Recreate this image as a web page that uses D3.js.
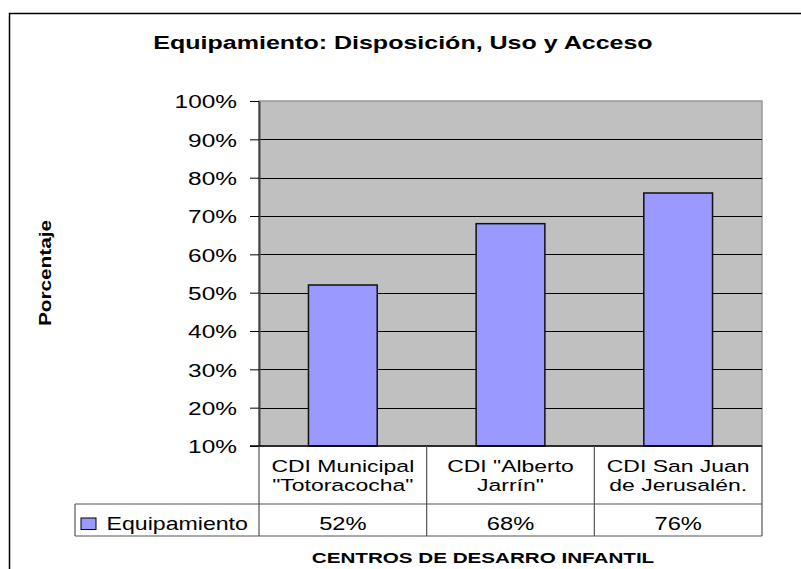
<!DOCTYPE html>
<html>
<head>
<meta charset="utf-8">
<script src="https://cdn.jsdelivr.net/npm/d3@7"></script>
<style>
  html, body { margin: 0; padding: 0; background: #fff; }
  svg { display: block; }
  text { font-family: "Liberation Sans", Arial, sans-serif; fill: #000; }
</style>
</head>
<body>
<svg id="chart" width="801" height="569"></svg>
<script>
// ---- data ----
const title = "Equipamiento: Disposición, Uso y Acceso";
const yTitle = "Porcentaje";
const xTitle = "CENTROS DE DESARRO INFANTIL";
const seriesName = "Equipamiento";
const categories = ["CDI Municipal \"Totoracocha\"", "CDI \"Alberto Jarrín\"", "CDI San Juan de Jerusalén."];
const categoryLines = [["CDI Municipal", "\"Totoracocha\""], ["CDI \"Alberto", "Jarrín\""], ["CDI San Juan", "de Jerusalén."]];
const values = [0.52, 0.68, 0.76];
const valueLabels = ["52%", "68%", "76%"];
const yTicks = [0.1, 0.2, 0.3, 0.4, 0.5, 0.6, 0.7, 0.8, 0.9, 1.0];

// ---- layout ----
const plot = { left: 259, right: 762, top: 101, bottom: 446 };
const table = { left: 75, row1: 504, row2: 536 };
const SX = 1.28;      // horizontal stretch of regular text
const SXB = 1.39;     // horizontal stretch of bold text
const barColor = "#9999FF";

const svg = d3.select("#chart");

function stext(parent, x, y, str, opts) {
  const o = Object.assign({ size: 18, weight: "normal", anchor: "middle", sx: SX, rotate: 0 }, opts || {});
  return parent.append("text")
    .attr("transform", `translate(${x},${y})` + (o.rotate ? ` rotate(${o.rotate})` : "") + ` scale(${o.sx},1)`)
    .attr("text-anchor", o.anchor)
    .attr("font-size", o.size)
    .attr("font-weight", o.weight)
    .text(str);
}

// outer chart frame
svg.append("rect")
  .attr("x", 9.5).attr("y", 13.5)
  .attr("width", 820).attr("height", 600)
  .attr("fill", "#fff").attr("stroke", "#000").attr("stroke-width", 1.5);

// scales
const y = d3.scaleLinear().domain([0.1, 1.0]).range([plot.bottom, plot.top]);
const x = d3.scaleBand().domain(categories).range([plot.left, plot.right]).paddingInner(0).paddingOuter(0);
const barW = x.bandwidth() * 0.41;

// plot background
svg.append("rect")
  .attr("x", plot.left).attr("y", plot.top)
  .attr("width", plot.right - plot.left).attr("height", plot.bottom - plot.top)
  .attr("fill", "#C0C0C0").attr("stroke", "#999").attr("stroke-width", 1.5);

// gridlines
svg.append("g").selectAll("line")
  .data(yTicks.filter(d => d > 0.1 && d < 1.0))
  .join("line")
  .attr("x1", plot.left).attr("x2", plot.right)
  .attr("y1", d => Math.round(y(d)) + 0.5).attr("y2", d => Math.round(y(d)) + 0.5)
  .attr("stroke", "#000").attr("stroke-width", 1);

// bars
svg.append("g").selectAll("rect")
  .data(values)
  .join("rect")
  .attr("x", (d, i) => x(categories[i]) + (x.bandwidth() - barW) / 2)
  .attr("y", d => y(d))
  .attr("width", barW)
  .attr("height", d => plot.bottom - y(d))
  .attr("fill", barColor)
  .attr("stroke", "#111").attr("stroke-width", 1.5);

// y axis
const yAxis = svg.append("g")
  .attr("transform", `translate(${plot.left},0)`)
  .call(d3.axisLeft(y).tickValues(yTicks).tickFormat(d3.format(".0%")).tickSize(9).tickSizeOuter(0));
yAxis.select(".domain").attr("stroke", "#444").attr("stroke-width", 2);
yAxis.selectAll(".tick line").attr("stroke", "#000").attr("stroke-width", 1);
yAxis.selectAll(".tick text")
  .attr("x", 0).attr("dy", "0.36em")
  .attr("transform", `translate(-22,0) scale(${SX + 0.04},1)`)
  .attr("text-anchor", "end")
  .attr("font-size", 18.5)
  .attr("font-family", "'Liberation Sans', Arial, sans-serif")
  .attr("fill", "#000");

// x axis baseline
svg.append("line")
  .attr("x1", plot.left - 9).attr("x2", plot.right)
  .attr("y1", plot.bottom).attr("y2", plot.bottom)
  .attr("stroke", "#000").attr("stroke-width", 1.5);

// data table lines
const tbl = svg.append("g").attr("stroke", "#555").attr("stroke-width", 1.2);
tbl.append("line").attr("x1", table.left).attr("x2", plot.right).attr("y1", table.row1).attr("y2", table.row1);
tbl.append("line").attr("x1", table.left).attr("x2", plot.right).attr("y1", table.row2).attr("y2", table.row2);
tbl.append("line").attr("x1", table.left).attr("x2", table.left).attr("y1", table.row1).attr("y2", table.row2);
tbl.append("line").attr("x1", plot.left).attr("x2", plot.left).attr("y1", plot.bottom).attr("y2", table.row2);
tbl.selectAll("line.col")
  .data(categories)
  .join("line")
  .attr("class", "col")
  .attr("x1", d => x(d) + x.bandwidth()).attr("x2", d => x(d) + x.bandwidth())
  .attr("y1", plot.bottom).attr("y2", table.row2);

// category labels in table (two lines per cell)
categoryLines.forEach((lines, i) => {
  const cx = x(categories[i]) + x.bandwidth() / 2;
  lines.forEach((ln, j) => stext(svg, cx, 471.6 + j * 19.2, ln, { size: 17, sx: 1.35 }));
});

// value labels in table
valueLabels.forEach((v, i) => {
  const cx = x(categories[i]) + x.bandwidth() / 2;
  stext(svg, cx, 530, v, { size: 18.5 });
});

// legend key in table
svg.append("rect")
  .attr("x", 81).attr("y", 518).attr("width", 15).attr("height", 11.5)
  .attr("fill", barColor).attr("stroke", "#000").attr("stroke-width", 1);
stext(svg, 106.5, 530, seriesName, { size: 18.5, anchor: "start", sx: 1.25 });

// titles
stext(svg, 403, 49, title, { size: 18, weight: "bold", sx: SXB });
stext(svg, 50.5, 273, yTitle, { size: 16.5, weight: "bold", sx: 1.26, rotate: -90 });
stext(svg, 483, 562.5, xTitle, { size: 15.4, weight: "bold", sx: 1.34 });
</script>
</body>
</html>
